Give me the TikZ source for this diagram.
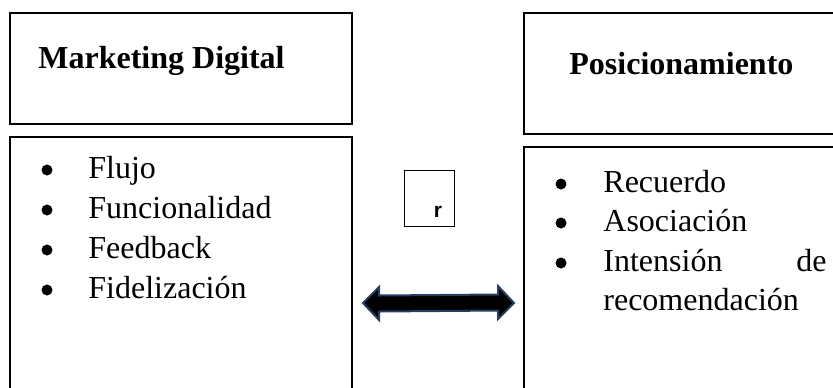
\documentclass[tikz,border=0pt]{standalone}
\usepackage{fontspec}
\setmainfont{Liberation Serif}
\newfontfamily\arialfont{Liberation Sans}
\definecolor{arrowedge}{HTML}{243F60}
\begin{document}
\begin{tikzpicture}[x=0.5pt,y=-0.5pt,
  box/.style={draw=black,line width=1pt},
  smallbox/.style={draw=black,line width=0.5pt},
  item/.style={anchor=base west,inner sep=0pt,font=\fontsize{16}{19}\selectfont},
  heading/.style={anchor=base west,inner sep=0pt,font=\fontsize{16}{19}\selectfont\bfseries},
  dot/.style={fill=black,circle,inner sep=0pt,minimum size=5.5pt},
  blockarrow/.style={fill=black,draw=arrowedge,line width=1pt,line join=miter}]
\useasboundingbox (0,0) rectangle (833,387);
\clip (0,0) rectangle (833,387);
% boxes
\draw[box] (10,13) rectangle (352,124);
\draw[box] (10,137) rectangle (352,400);
\draw[box] (524,13) rectangle (850,134);
\draw[box] (524,147) rectangle (850,400);
% headings
\node[heading] (mdh) at (38,68) {Marketing Digital};
\node[heading] (posh) at (569,74) {Posicionamiento};
% left list
\foreach \t/\y/\n in {Flujo/178/a, Funcionalidad/218/b, Feedback/258/c, Fidelización/298/d}{
  \node[dot] (ld\n) at (47,\y-8) {};
  \node[item] (l\n) at (88,\y) {\t};
}
% right list
\foreach \t/\y/\n in {Recuerdo/192/a, Asociación/231/b, Intensión/271/c}{
  \node[dot] (rd\n) at (561,\y-8) {};
  \node[item] (r\n) at (603,\y) {\t};
}
\node[item] (rde) at (796,271) {de};
\node[item] (rrec) at (603,310) {recomendación};
% r box
\draw[smallbox] (404,170) rectangle (454,226);
\node[anchor=base,inner sep=0pt,font=\arialfont\bfseries\fontsize{10.5}{12}\selectfont] (rlab) at (438,217) {r};
% double block arrow
\coordinate (al) at (363,303);
\coordinate (ar) at (514,303);
\draw[blockarrow] (al) -- ++(16,-16) -- ++(0,8.5) -- (498,294.5) -- ++(0,-8.5)
  -- (ar) -- ++(-16,16) -- ++(0,-8.5) -- (379,311.5) -- ++(0,8.5) -- cycle;
\end{tikzpicture}
\end{document}
